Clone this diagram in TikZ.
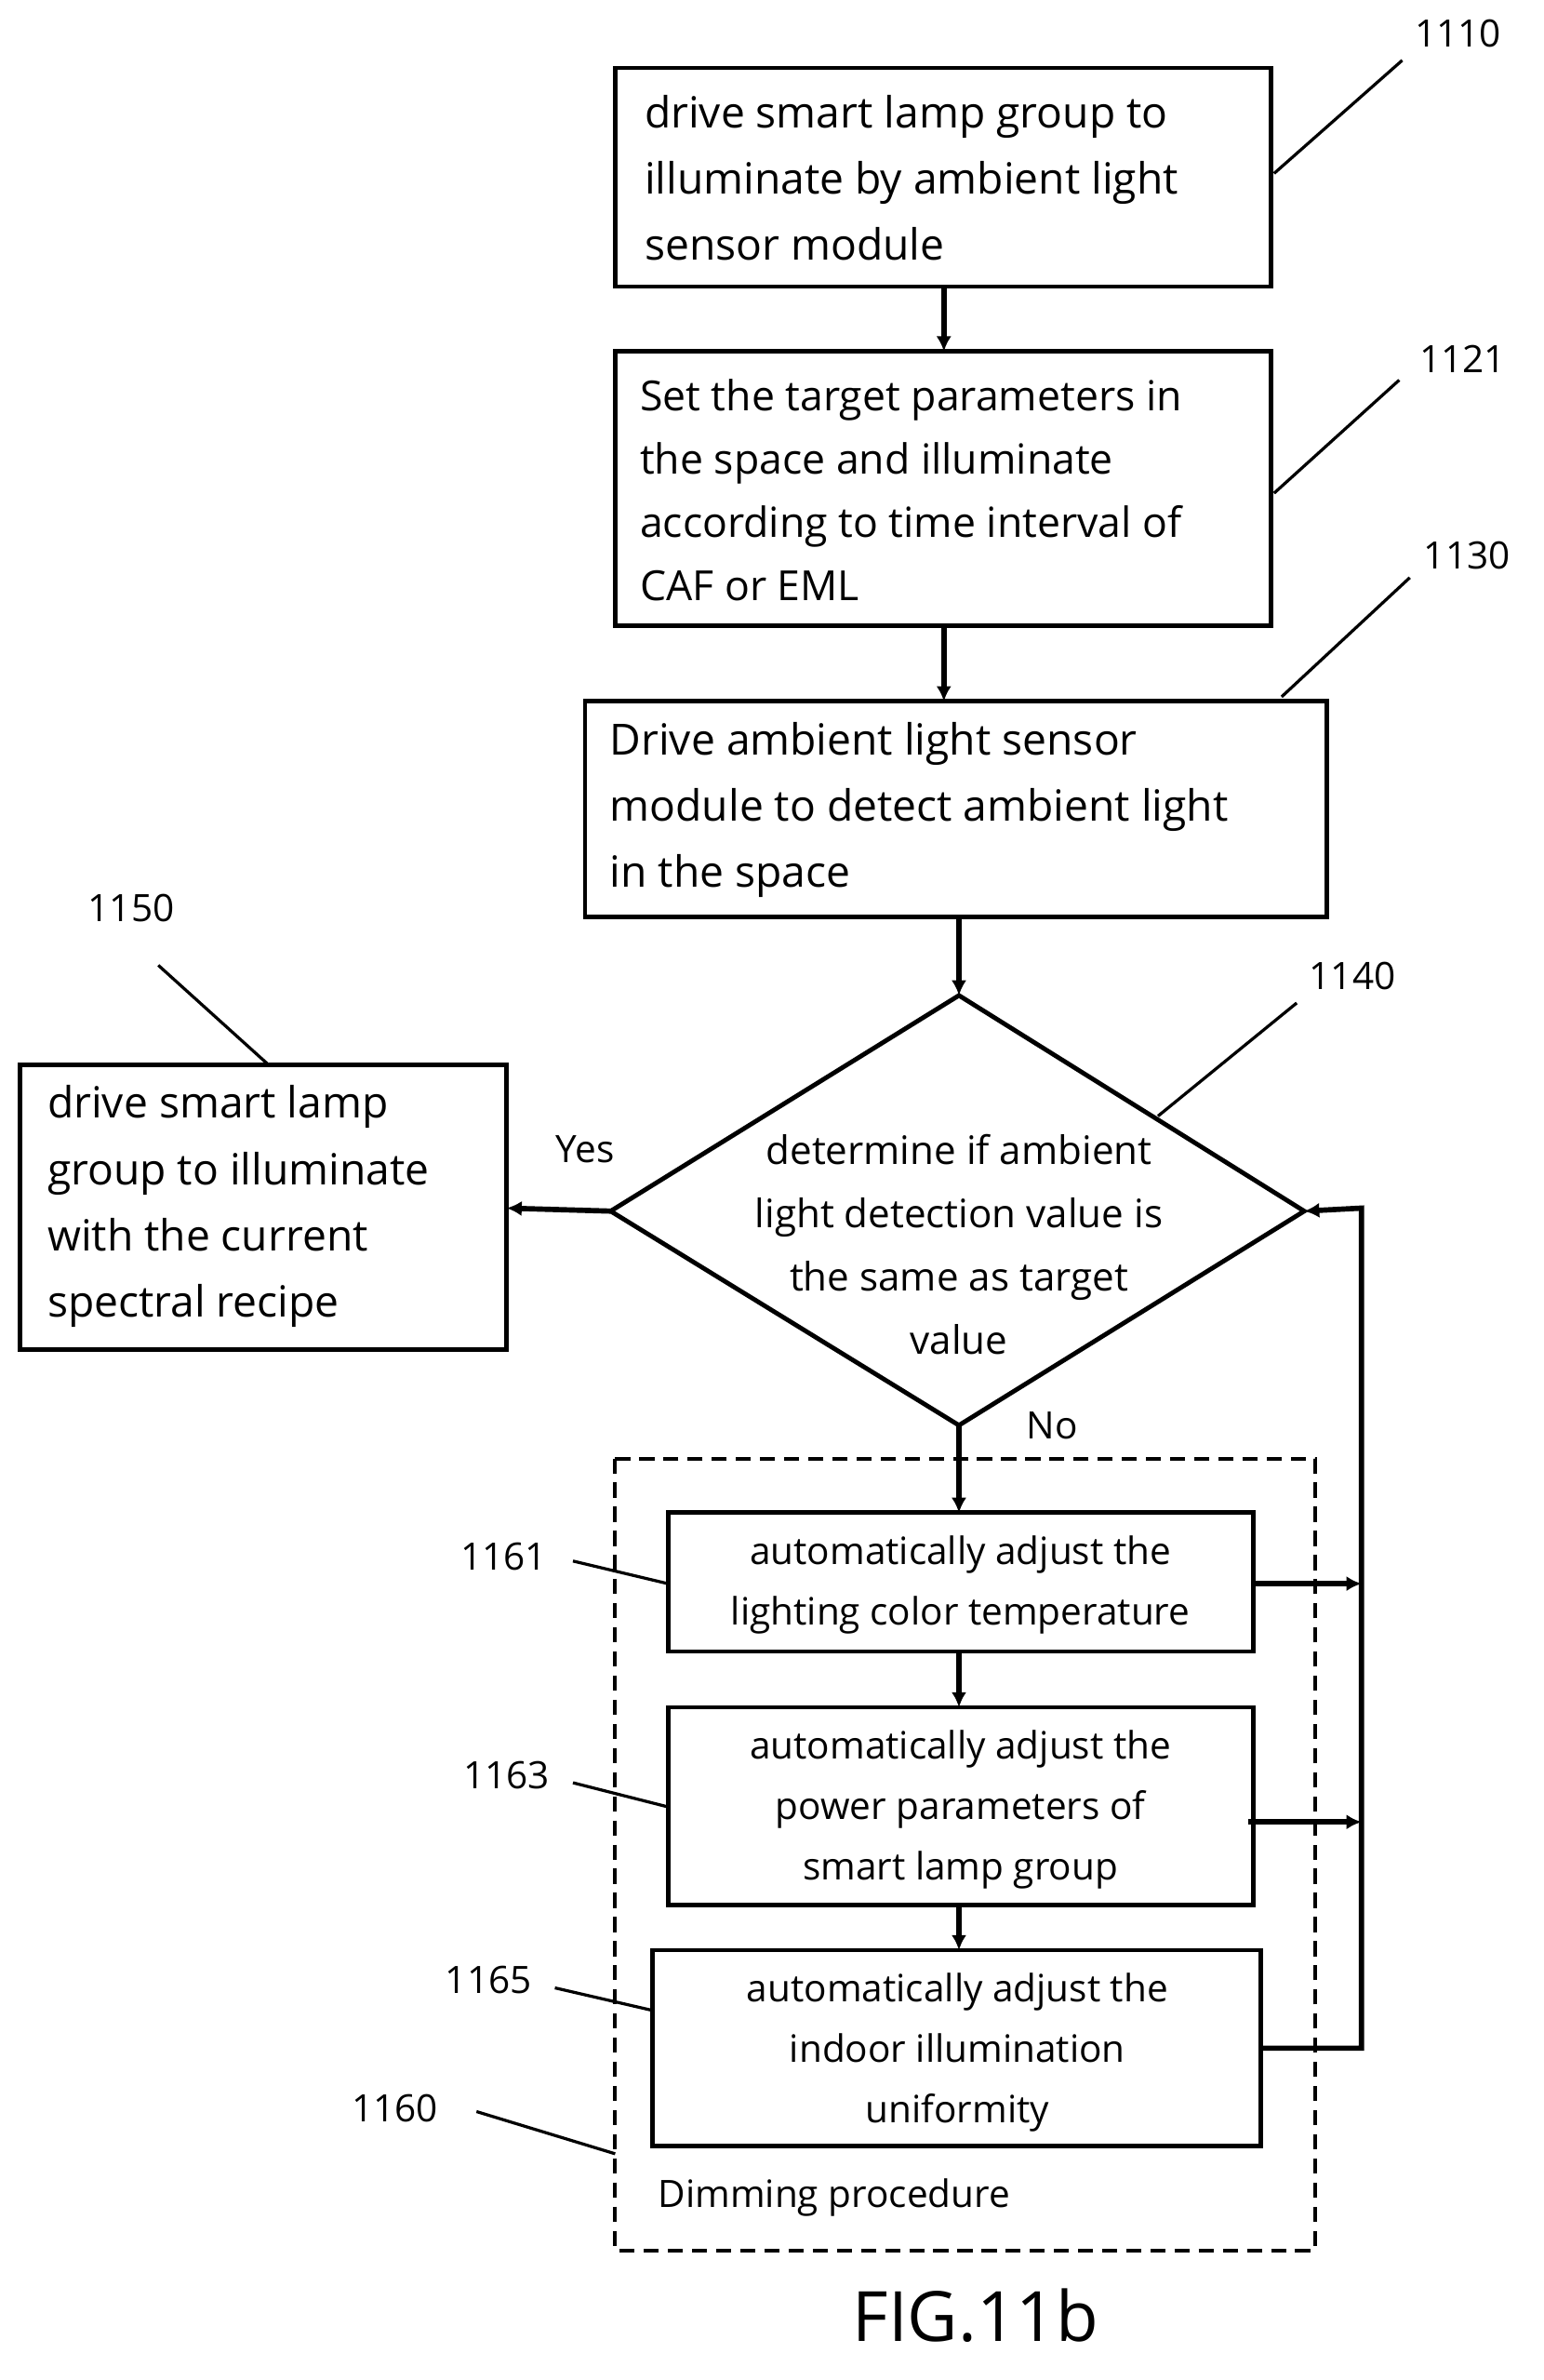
\documentclass[tikz,border=0pt]{standalone}
\usepackage{fontspec}
\setmainfont{Open Sans}
\usetikzlibrary{arrows.meta,shapes.geometric}
\begin{document}
\begin{tikzpicture}[x=1pt,y=-1pt,
 box/.style={draw,line width=3pt,inner sep=0pt},
 big/.style={font=\fontsize{28.5}{44}\selectfont,align=left,anchor=west},
 sm/.style={font=\fontsize{25}{40}\selectfont,align=center},
 lab/.style={font=\fontsize{25}{28}\selectfont},
 ar/.style={line width=3.5pt,-{Latex[length=10pt,width=10pt]}},
 ld/.style={line width=2pt}]
\useasboundingbox (0,0) rectangle (1024,1578);
\draw[box] (408,45) rectangle (843,190);
\node[big] (t1) at (424,118) {drive smart lamp group to\\illuminate by ambient light\\sensor module};
\coordinate (b1t) at (626,45); \coordinate (b1b) at (626,190);
\draw[box] (408,233) rectangle (843,415);
\node[big,font=\fontsize{27.5}{42}\selectfont] (t2) at (421,325) {Set the target parameters in\\the space  and illuminate\\according to time interval of\\CAF or EML};
\coordinate (b2t) at (626,233); \coordinate (b2b) at (626,415);
\draw[box] (388,465) rectangle (880,608);
\node[big] (t3) at (401,537) {Drive ambient light sensor\\module to detect ambient light\\in the space};
\coordinate (b3t) at (626,465); \coordinate (b3b) at (636,608);
\draw[box] (636,660) coordinate (dt) -- (865,803) coordinate (dr) -- (636,945) coordinate (db) -- (405,803) coordinate (dl) -- cycle;
\node[sm,font=\fontsize{26}{42}\selectfont] (td) at (636,825) {determine  if ambient\\light detection  value is\\the same as target\\value};
\draw[box] (13,706) rectangle (336,895);
\node[big] (t5) at (28,800) {drive smart lamp\\group to illuminate\\with the current\\spectral recipe};
\coordinate (b5r) at (336,801);
\draw[line width=2.5pt,dash pattern=on 10pt off 6pt] (408,967) rectangle (872,1492);
\draw[box] (443,1003) rectangle (831,1095);
\node[sm] (t61) at (637,1051) {automatically adjust the\\lighting  color temperature};
\draw[box] (443,1132) rectangle (831,1263);
\node[sm] (t63) at (637,1200) {automatically adjust the\\power parameters  of\\smart lamp group};
\draw[box] (433,1293) rectangle (836,1423);
\node[sm] (t65) at (635,1361) {automatically adjust the\\indoor illumination\\uniformity};
\node[lab,anchor=west] (dp) at (433,1457) {Dimming  procedure};
\node[font=\fontsize{46}{50}\selectfont] (fig) at (647,1535) {FIG.11b};
% arrows
\draw[ar] (b1b) -- (626,233);
\draw[ar] (b2b) -- (626,465);
\draw[ar] (b3b) -- (dt);
\draw[ar] (dl) -- (b5r);
\draw[ar] (db) -- (636,1003);
\draw[ar] (636,1095) -- (636,1132);
\draw[ar] (636,1263) -- (636,1293);
\draw[ar] (831,1050) -- (903,1050);
\draw[ar] (828,1208) -- (903,1208);
\draw[ar] (836,1358) -- (903,1358) -- (903,801) -- (dr);
\node[lab] (yes) at (388,762) {Yes};
\node[lab] (no) at (698,945) {No};
% labels
\node[lab] (l1) at (967,22) {1110}; \draw[ld] (845,115) -- (930,40);
\node[lab] (l2) at (970,238) {1121}; \draw[ld] (845,327) -- (928,252);
\node[lab] (l3) at (973,368) {1130}; \draw[ld] (850,462) -- (935,383);
\node[lab] (l4) at (897,647) {1140}; \draw[ld] (768,740) -- (860,665);
\node[lab] (l5) at (87,602) {1150}; \draw[ld] (105,640) -- (177,705);
\node[lab] (l6) at (334,1032) {1161}; \draw[ld] (380,1035) -- (443,1050);
\node[lab] (l7) at (336,1177) {1163}; \draw[ld] (380,1182) -- (443,1198);
\node[lab] (l8) at (324,1313) {1165}; \draw[ld] (368,1318) -- (433,1333);
\node[lab] (l9) at (262,1398) {1160}; \draw[ld] (316,1400) -- (408,1428);
\end{tikzpicture}
\end{document}
